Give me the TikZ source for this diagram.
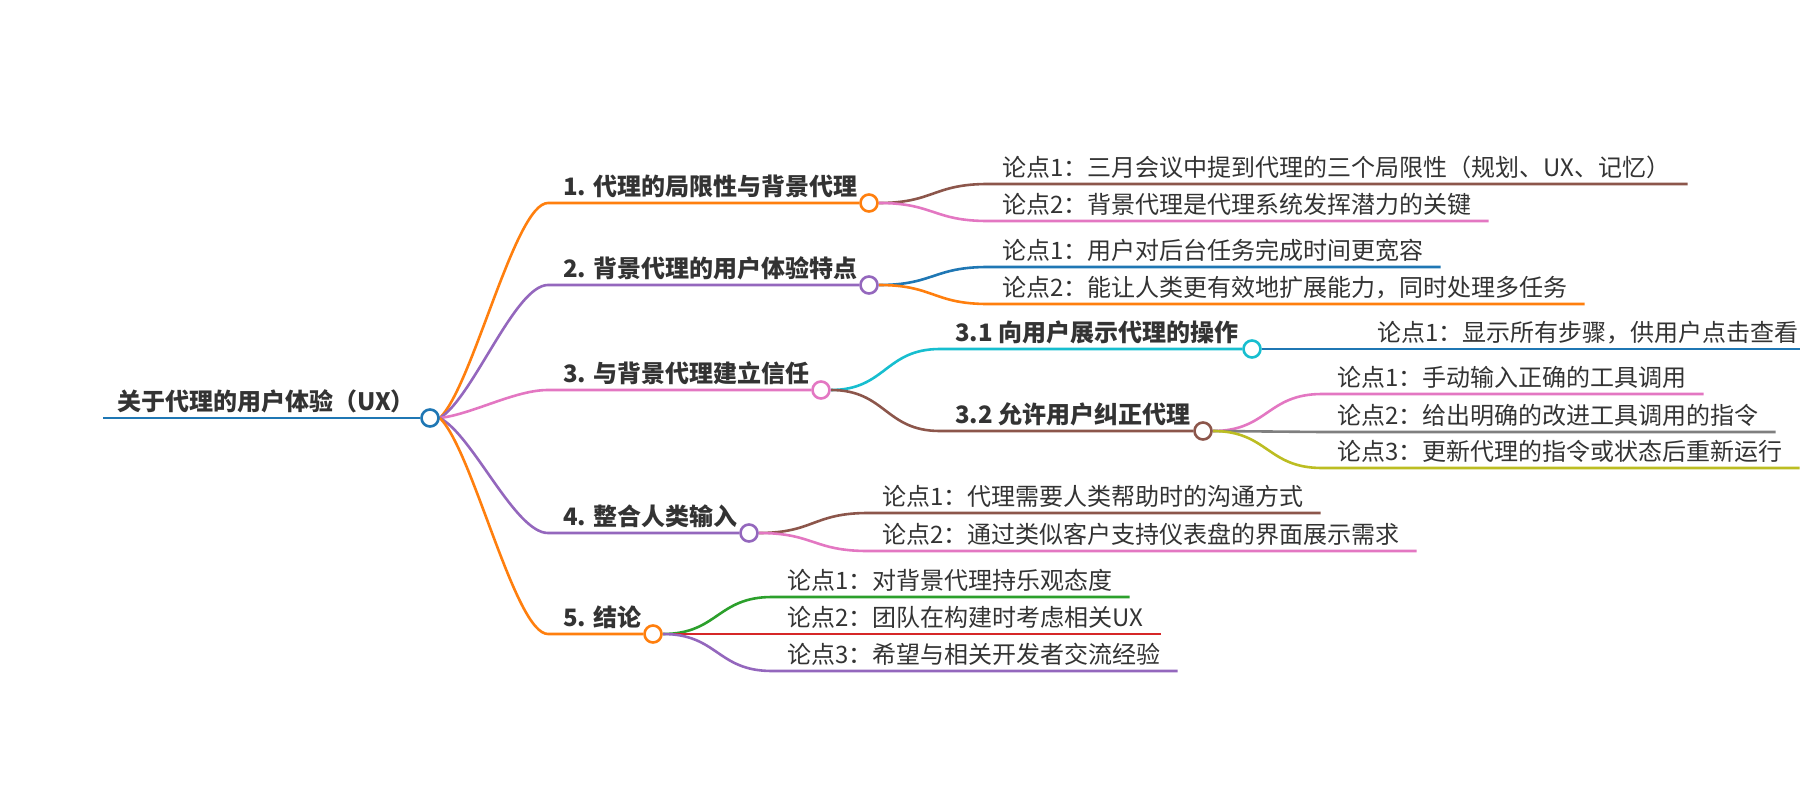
\documentclass[tikz,border=0pt]{standalone}
\usepackage{fontspec}
\setmainfont{Noto Sans CJK SC}
\usetikzlibrary{calc,backgrounds}
\definecolor{cblue}{HTML}{1F77B4}
\definecolor{corange}{HTML}{FF7F0E}
\definecolor{cgreen}{HTML}{2CA02C}
\definecolor{cred}{HTML}{D62728}
\definecolor{cpurple}{HTML}{9467BD}
\definecolor{cbrown}{HTML}{8C564B}
\definecolor{cpink}{HTML}{E377C2}
\definecolor{cgray}{HTML}{7F7F7F}
\definecolor{colive}{HTML}{BCBD22}
\definecolor{ccyan}{HTML}{17BECF}
\definecolor{txt}{HTML}{333333}
\begin{document}
\begin{tikzpicture}[x=1pt,y=-1pt,
  conn/.style={line width=2.6pt},
  dot/.style={circle,draw,fill=white,line width=2.6pt,minimum size=17pt,inner sep=0pt},
  main/.style={anchor=base west,inner sep=0pt,text=txt,font=\fontsize{24}{28}\selectfont\bfseries},
  leaf/.style={anchor=base west,inner sep=0pt,text=txt,font=\fontsize{24}{28}\selectfont},
]
\useasboundingbox (0,0) rectangle (1800,800);

% ---- root ----
\coordinate (R0) at (103,418);
\node[dot,draw=cblue] (R) at (430,418) {};
\node[main] (Rt) at (117,410) {关于代理的用户体验（UX）};

% ---- level 1 ----
\coordinate (s1) at (548,203);
\coordinate (s2) at (548,285);
\coordinate (s3) at (548,390);
\coordinate (s4) at (548,533);
\coordinate (s5) at (548,634);
\node[main] (t1) at ($(s1)+(15,-8)$) {1. 代理的局限性与背景代理};
\node[main] (t2) at ($(s2)+(15,-8)$) {2. 背景代理的用户体验特点};
\node[main] (t3) at ($(s3)+(15,-8)$) {3. 与背景代理建立信任};
\node[main] (t4) at ($(s4)+(15,-8)$) {4. 整合人类输入};
\node[main] (t5) at ($(s5)+(15,-8)$) {5. 结论};
\node[dot,draw=corange] (B1) at (869,203) {};
\node[dot,draw=cpurple] (B2) at (869,285) {};
\node[dot,draw=cpink]   (B3) at (821,390) {};
\node[dot,draw=cpurple] (B4) at (749,533) {};
\node[dot,draw=corange] (B5) at (653,634) {};

% ---- level 2 under 3 ----
\coordinate (s31) at (940,349);
\coordinate (s32) at (940,431);
\node[main] (t31) at ($(s31)+(15,-8)$) {3.1 向用户展示代理的操作};
\node[main] (t32) at ($(s32)+(15,-8)$) {3.2 允许用户纠正代理};
\node[dot,draw=ccyan]  (B31) at (1252,349) {};
\node[dot,draw=cbrown] (B32) at (1203,431) {};

% ---- leaves ----
\coordinate (a11) at (988,184);
\coordinate (a12) at (988,221);
\coordinate (a21) at (988,267);
\coordinate (a22) at (988,304);
\coordinate (a311) at (1371,349);
\coordinate (a321) at (1322,394);
\coordinate (a322) at (1322,432);
\coordinate (a323) at (1322,468);
\coordinate (a41) at (868,513);
\coordinate (a42) at (868,551);
\coordinate (a51) at (772,597);
\coordinate (a52) at (772,634);
\coordinate (a53) at (772,671);
\node[leaf] (l11) at ($(a11)+(14,-8)$) {论点1：三月会议中提到代理的三个局限性（规划、UX、记忆）};
\node[leaf] (l12) at ($(a12)+(14,-8)$) {论点2：背景代理是代理系统发挥潜力的关键};
\node[leaf] (l21) at ($(a21)+(14,-8)$) {论点1：用户对后台任务完成时间更宽容};
\node[leaf] (l22) at ($(a22)+(14,-8)$) {论点2：能让人类更有效地扩展能力，同时处理多任务};
\node[leaf] (l311) at ($(a311)+(6,-8)$) {论点1：显示所有步骤，供用户点击查看};
\node[leaf] (l321) at ($(a321)+(15,-8)$) {论点1：手动输入正确的工具调用};
\node[leaf] (l322) at ($(a322)+(15,-8)$) {论点2：给出明确的改进工具调用的指令};
\node[leaf] (l323) at ($(a323)+(15,-8)$) {论点3：更新代理的指令或状态后重新运行};
\node[leaf] (l41) at ($(a41)+(14,-8)$) {论点1：代理需要人类帮助时的沟通方式};
\node[leaf] (l42) at ($(a42)+(14,-8)$) {论点2：通过类似客户支持仪表盘的界面展示需求};
\node[leaf] (l51) at ($(a51)+(15,-8)$) {论点1：对背景代理持乐观态度};
\node[leaf] (l52) at ($(a52)+(15,-8)$) {论点2：团队在构建时考虑相关UX};
\node[leaf] (l53) at ($(a53)+(15,-8)$) {论点3：希望与相关开发者交流经验};

\begin{pgfonlayer}{background}
% root line
\draw[conn,cblue] (R0) -- (R.west);
% root -> branches
\draw[conn,corange] (R.east) .. controls +(33,-32) and +(-33,0) .. (s1) -- (B1.west);
\draw[conn,cpurple] (R.east) .. controls +(33,-20) and +(-33,0) .. (s2) -- (B2.west);
\draw[conn,cpink]   (R.east) .. controls +(33,-4)  and +(-33,0) .. (s3) -- (B3.west);
\draw[conn,cpurple] (R.east) .. controls +(33,17)  and +(-33,0) .. (s4) -- (B4.west);
\draw[conn,corange] (R.east) .. controls +(33,32)  and +(-33,0) .. (s5) -- (B5.west);
% branch 1
\draw[conn,cbrown] (B1.east) .. controls +(55,0) and +(-55,0) .. (a11) -- (a11 -| l11.east) -- ++(17,0);
\draw[conn,cpink]  (B1.east) .. controls +(55,0) and +(-55,0) .. (a12) -- (a12 -| l12.east) -- ++(17,0);
% branch 2
\draw[conn,cblue]   (B2.east) .. controls +(55,0) and +(-55,0) .. (a21) -- (a21 -| l21.east) -- ++(17,0);
\draw[conn,corange] (B2.east) .. controls +(55,0) and +(-55,0) .. (a22) -- (a22 -| l22.east) -- ++(17,0);
% branch 3
\draw[conn,ccyan]  (B3.east) .. controls +(55,0) and +(-55,0) .. (s31) -- (B31.west);
\draw[conn,cbrown] (B3.east) .. controls +(55,0) and +(-55,0) .. (s32) -- (B32.west);
\draw[conn,cblue]  (B31.east) -- (a311) -- (1800,349);
\draw[conn,cpink]  (B32.east) .. controls +(55,0) and +(-55,0) .. (a321) -- (a321 -| l321.east) -- ++(17,0);
\draw[conn,cgray]  (B32.east) .. controls +(55,0) and +(-55,0) .. (a322) -- (a322 -| l322.east) -- ++(17,0);
\draw[conn,colive] (B32.east) .. controls +(55,0) and +(-55,0) .. (a323) -- (a323 -| l323.east) -- ++(17,0);
% branch 4
\draw[conn,cbrown] (B4.east) .. controls +(55,0) and +(-55,0) .. (a41) -- (a41 -| l41.east) -- ++(17,0);
\draw[conn,cpink]  (B4.east) .. controls +(55,0) and +(-55,0) .. (a42) -- (a42 -| l42.east) -- ++(17,0);
% branch 5
\draw[conn,cgreen]  (B5.east) .. controls +(55,0) and +(-55,0) .. (a51) -- (a51 -| l51.east) -- ++(17,0);
\draw[conn,cred]    (B5.east) .. controls +(55,0) and +(-55,0) .. (a52) -- (a52 -| l52.east) -- ++(17,0);
\draw[conn,cpurple] (B5.east) .. controls +(55,0) and +(-55,0) .. (a53) -- (a53 -| l53.east) -- ++(17,0);
\end{pgfonlayer}
\end{tikzpicture}
\end{document}
